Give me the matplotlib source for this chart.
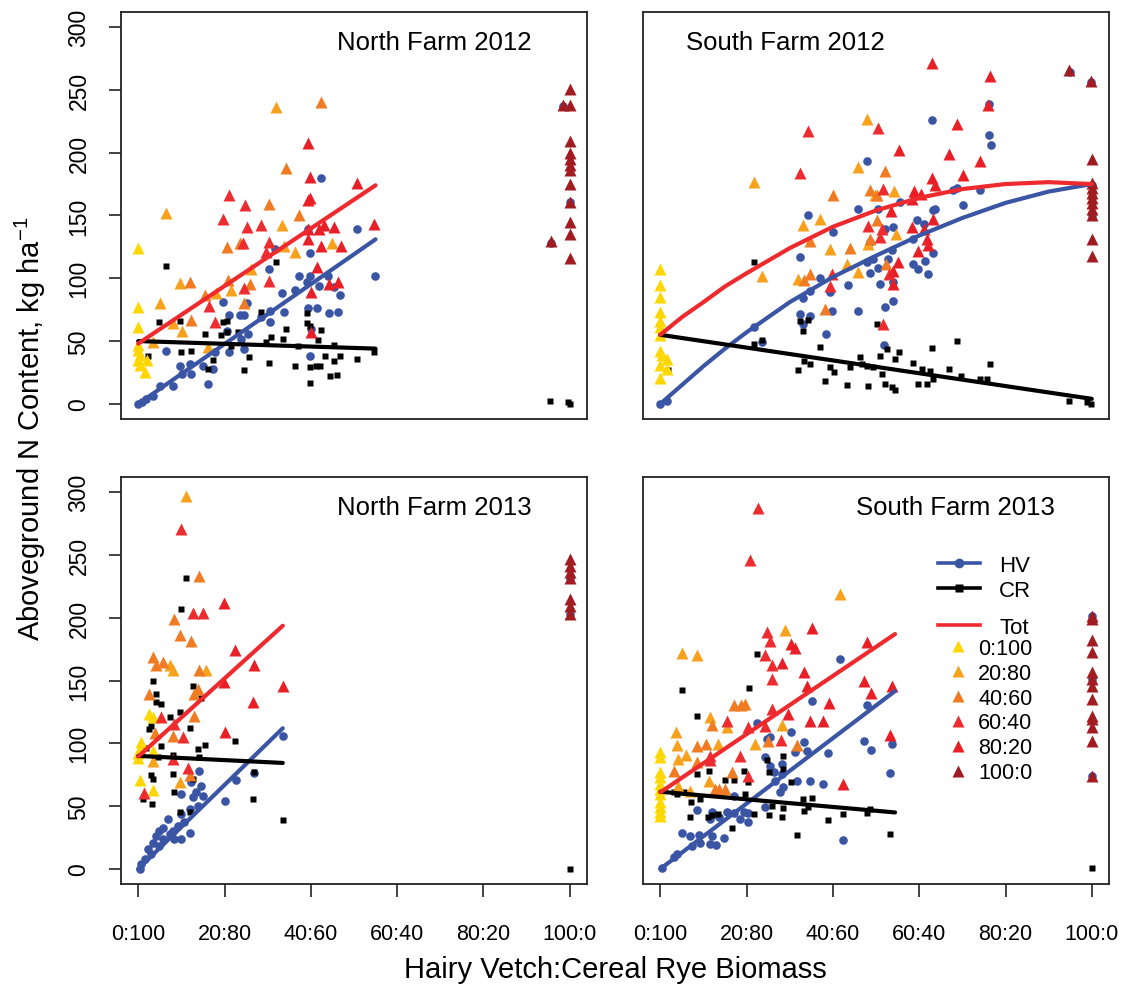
import matplotlib.pyplot as plt
from matplotlib.lines import Line2D

plt.rcParams['font.family'] = ['Liberation Sans', 'DejaVu Sans']
plt.rcParams['mathtext.fontset'] = 'custom'
plt.rcParams['mathtext.rm'] = 'Liberation Sans'
plt.rcParams['mathtext.it'] = 'Liberation Sans:italic'

## axis categories (HV:CR seeding ratios)
ratio_ticks = [0, 20, 40, 60, 80, 100]
ratio_labels = ['0:100', '20:80', '40:60', '60:40', '80:20', '100:0']
y_ticks = [0, 50, 100, 150, 200, 250, 300]
trt_names = ['0:100', '20:80', '40:60', '60:40', '80:20', '100:0']
trt_colors = ['#FFD700', '#F8A11C', '#F07B22', '#EC2C2E', '#E91F27', '#A11C21']
hv_color = '#3B55A5'
tot_color = '#EE2A2E'

## ---------------- North Farm 2012 ----------------
nf12_hv = [(42.4, 180), (50.8, 139), (54.9, 102), (39.3, 139), (39.8, 120), (30.4, 107),
           (31.6, 123.5), (37.2, 102), (39.8, 102), (39, 97), (42, 94), (43.9, 102),
           (45.4, 93), (46.8, 87), (33.3, 88), (36.4, 91), (19.6, 81), (25.2, 80.5),
           (21, 71), (23.5, 71), (24.6, 71), (28.5, 69), (30.6, 74), (30.6, 65),
           (33.9, 73), (39.3, 76), (41.4, 76), (44.3, 72), (46.2, 73), (40, 60),
           (20.6, 58), (25.4, 56), (23.8, 52), (24.6, 44), (21, 41), (17.7, 41),
           (6.5, 42.5), (39.8, 38), (9.7, 30.5), (11.9, 32), (15, 30.5), (17.3, 28),
           (10.2, 24), (12.3, 24), (8, 14.6), (5.1, 14), (16.1, 16), (3.4, 6.6),
           (1.9, 4), (0, 0), (0.8, 1.3), (95.6, 128), (98.4, 237), (100, 161)]
nf12_cr = [(6.5, 110), (31.9, 113), (28.5, 73), (4.9, 65), (9.7, 65.6), (19.6, 65),
           (20.6, 66), (39, 72), (39, 64), (39.9, 62), (42.4, 59), (15.4, 56),
           (19.2, 54.5), (20.6, 57), (23.1, 57), (34.3, 60), (30.8, 53), (33.5, 52),
           (41.6, 51), (29.6, 49), (45.4, 47), (9.9, 41), (12.3, 42.5), (17.3, 35),
           (25.6, 37), (30.4, 32.7), (36.4, 30), (39.9, 29), (41.2, 30.5), (42.2, 30.5),
           (43.4, 38.5), (46.8, 38), (45.3, 34.5), (50.8, 36), (54.7, 41), (16.1, 28),
           (24.6, 27), (44.4, 22.6), (46, 23), (39.8, 17), (2.2, 38.5), (21.5, 46),
           (37, 46), (95.4, 2), (99.5, 1.5), (100, 0)]
nf12_tot = {
    '0:100': [(0, 124), (0, 77), (0, 61), (0, 47), (0, 43), (0.5, 39), (0, 35),
              (0.5, 31), (1.5, 25), (2, 35)],
    '20:80': [(31.9, 236), (6.5, 152), (33.3, 142), (33.8, 126), (36.4, 121), (45, 128),
              (26.2, 107), (9.6, 96), (21.5, 91), (18.1, 88), (5, 80), (8, 64),
              (10.2, 58), (16.1, 45), (3.4, 49)],
    '40:60': [(42.4, 240), (34.3, 188), (30.4, 159), (37.2, 150), (20.6, 125),
              (23.5, 128), (20.8, 99), (11.9, 97), (25.8, 95.6), (15.4, 87),
              (24.6, 80), (12.3, 67)],
    '60:40': [(21, 166), (24.8, 158.5), (19.6, 147), (25.2, 141), (28.5, 142),
              (24.2, 128), (29.6, 121), (30.4, 129), (30.4, 98), (24.6, 92),
              (16.5, 78), (17.7, 65)],
    '80:20': [(39.3, 208), (39.8, 181), (50.8, 176), (39.7, 164), (39.3, 162),
              (39.3, 139.5), (42, 139.5), (43.1, 142), (45.4, 141), (54.7, 143.5),
              (39.3, 131.5), (42.4, 126), (47, 126), (41.4, 109), (44.1, 95.6),
              (46.2, 97), (40, 89), (40, 57)],
    '100:0': [(100, 251), (98.4, 238), (100, 238), (100, 209), (100, 200), (100, 195),
              (100, 190), (100, 186), (100, 175), (100, 161), (100, 145), (100, 135),
              (100, 116), (95.6, 130)],
}
nf12_fit_x = [0, 55]
nf12_fit_hv = [0, 131]
nf12_fit_cr = [50, 44]
nf12_fit_tot = [48, 174]

## ---------------- South Farm 2012 ----------------
sf12_hv = [(48, 193), (34.3, 150), (45.9, 155), (50.5, 155), (32.4, 117), (40, 137),
           (34.7, 90), (33, 84), (37, 100), (39.4, 89), (43.6, 95), (47.8, 113),
           (48.5, 104), (50.5, 108), (50.9, 95.6), (52.7, 115.5), (32.4, 71.7),
           (34.7, 70), (33, 63.7), (39.7, 74), (45.9, 73.8), (38.5, 55.8), (21.8, 61),
           (23.5, 49), (52, 77), (51.9, 46.5), (0, 0), (1.5, 2.7),
           (62.9, 226), (76.2, 214), (76.6, 206), (76.2, 239), (95, 264), (67.9, 170),
           (68.8, 172), (74, 170), (63.7, 155), (63.3, 154), (70.2, 158), (55.6, 161),
           (59.4, 146), (61, 143), (54, 141), (52.1, 139), (58.6, 131), (63.3, 120),
           (61.3, 113.5), (62, 103), (58.6, 111), (59.8, 107), (53.6, 122.5), (54, 97),
           (54, 82), (49.3, 115.5), (48.6, 129),
           (99.9, 256), (100, 174), (100, 165), (100, 150)]
sf12_cr = [(21.8, 113), (23.5, 50.5), (21.8, 48), (32.4, 65.6), (34.3, 66.4), (33, 58),
           (36.9, 45), (33.2, 34.5), (34.7, 32), (32, 27), (39.4, 29), (40.2, 25),
           (38.2, 18.6), (43.2, 15), (48.2, 14.6), (44, 29), (46.3, 37), (46.7, 32),
           (47.8, 30.5), (49.4, 29), (50.9, 38.5), (51.3, 24), (52, 16), (52.5, 44),
           (50.3, 63.7), (1.9, 26.6),
           (68.7, 49.7), (62.9, 44.4), (55.4, 41.7), (54.4, 35.9), (58.6, 32.7),
           (60.6, 28), (62.5, 25.8), (63.3, 20), (67, 28), (69.8, 22), (74, 20),
           (75.6, 20), (76.4, 32), (59.8, 16), (61.7, 16), (53.8, 13.3), (54.4, 11.4),
           (94.7, 2.7), (99, 1.3), (99.7, 0)]
sf12_tot = {
    '0:100': [(0, 107), (0, 95), (0, 85), (0, 73), (0, 66), (0, 61), (0, 55), (0, 42),
              (0.5, 39), (1.5, 36), (0, 31), (1.5, 28), (0, 21)],
    '20:80': [(21.8, 177), (23.5, 102), (47.8, 227), (45.9, 188.6), (33, 142),
              (36.9, 147), (39.4, 123.5), (48.2, 127), (43.2, 111.5), (45.9, 105),
              (32, 99.6), (54.2, 169.7), (54.6, 135.5), (49.8, 166)],
    '40:60': [(52, 185), (40, 166), (48.5, 170), (50.2, 166), (34.7, 130), (44, 124),
              (50.2, 146), (48.6, 131), (33.2, 98.8), (34.7, 103.6), (38.2, 75.7),
              (52.3, 111.5)],
    '60:40': [(34.3, 217), (32.4, 184), (50.5, 220), (51.7, 171), (48.2, 141.6),
              (51.3, 139), (39.7, 103), (39.4, 94), (51.7, 63.7), (52.9, 103),
              (51, 132.8)],
    '80:20': [(62.9, 271), (76.4, 261), (76, 238), (68.8, 223), (55.4, 202), (67, 199),
              (74, 193), (62.9, 180), (63.7, 174), (70.1, 182.5), (58.9, 169.7),
              (60.5, 167), (58.4, 163), (53.4, 153.6), (63.1, 147.4), (58.4, 140.8),
              (61, 139.4), (61.7, 131.5), (62, 126.7), (59.8, 122), (55, 113),
              (54, 106), (54, 95.6)],
    '100:0': [(94.8, 266), (99.9, 257), (100, 195), (100, 176), (100, 172), (100, 168),
              (100, 164), (100, 160), (100, 155), (100, 150), (100, 131), (100, 118)],
}
sf12_fit_x = [0, 5, 10, 15, 20, 30, 40, 50, 60, 70, 80, 90, 100]
sf12_fit_hv = [0, 15, 30, 44, 57, 81, 101, 118, 134, 148, 160, 169, 175]
sf12_fit_tot = [55, 69, 81, 93.5, 104, 124, 141, 154, 164, 171, 175, 176.5, 175]
sf12_cr_fit_x = [0, 100]
sf12_fit_cr = [55, 4]

## ---------------- North Farm 2013 ----------------
nf13_hv = [(33.5, 105.6), (26.9, 76), (22.7, 71), (20, 54), (14.2, 78), (12.3, 69),
           (14.6, 66), (10, 60), (12.7, 57), (15, 58), (13.8, 50), (11.9, 48), (10, 44),
           (6.9, 40), (5.7, 33), (8, 30.5), (11.9, 29), (10, 24), (5.7, 24), (4.2, 26.5),
           (3.4, 21), (2.2, 16), (3, 12), (1.5, 8), (0.7, 4), (0.3, 0), (7.3, 28),
           (8.4, 24), (9.2, 34.5), (4.9, 30.5), (10.7, 37), (13.4, 61), (4.9, 18.6),
           (100, 232), (100, 203)]
nf13_cr = [(11.1, 231.6), (10, 207), (3.5, 150), (4.2, 139), (4.2, 132.6), (5.3, 131.3),
           (12.7, 146), (14.6, 136), (7.3, 120.7), (9.6, 125), (2.6, 111.4), (3, 114),
           (12.1, 112), (1.9, 96), (5.3, 98), (4.6, 89), (8, 90.7), (13.8, 95.5),
           (15.4, 98.7), (22.5, 102), (14, 89.4), (3, 74.8), (3.4, 71.6), (8, 75.6),
           (12.7, 72), (26.9, 77), (8.3, 61.5), (1.2, 56), (3.2, 51.7), (26.5, 56),
           (9.7, 45), (11.9, 45.6), (33.5, 39), (100, 0)]
nf13_tot = {
    '0:100': [(2.6, 123), (3.4, 120.7), (0.7, 101), (0.3, 95.5), (3.4, 94), (0.3, 71),
              (3.4, 63), (0, 92), (0, 88)],
    '20:80': [(11.1, 297), (7.3, 162), (8, 158), (15.7, 158), (3.4, 86), (9.7, 69)],
    '40:60': [(14.2, 233), (8.4, 199), (9.6, 186.5), (12.3, 181.7), (3.4, 169),
              (5.7, 165), (4.2, 162), (14.2, 158.4), (2.6, 139), (13.8, 143), (13, 139),
              (13, 122), (4, 108), (8, 106), (11.9, 75)],
    '60:40': [(10, 271), (12.7, 204), (15, 203.5), (5.3, 120.7), (8.4, 115), (10.3, 105),
              (8, 87.5), (11.5, 80), (1.3, 60.5)],
    '80:20': [(19.8, 212), (22.5, 174.5), (26.9, 162), (33.5, 146), (26.5, 133),
              (19.8, 149), (20, 109)],
    '100:0': [(100, 246.6), (100, 241), (100, 236), (100, 232), (100, 215), (100, 209),
              (100, 203)],
}
nf13_fit_x = [0, 33.5]
nf13_fit_hv = [0, 112]
nf13_fit_cr = [90, 84.4]
nf13_fit_tot = [89.4, 193.6]

## ---------------- South Farm 2013 ----------------
sf13_hv = [(41.7, 167), (35.1, 134), (47.8, 130.5), (30.3, 108.8), (22.4, 116),
           (25.5, 105), (24.7, 103.4), (33.2, 101.3), (31.3, 92.8), (33.9, 94),
           (38.8, 92.3), (47.1, 101.6), (48.8, 95), (24.3, 88.9), (28.2, 83.5), (25.5, 82),
           (26.4, 77), (28.2, 75.6), (26.6, 70.3), (28.5, 65), (31.6, 70.3), (34.7, 70.3),
           (37.6, 67.6), (27.8, 61), (24.3, 49), (20.4, 44.3), (20.4, 37), (18.5, 40),
           (17, 58), (8.5, 47.2), (11.9, 45), (15.4, 45), (13.5, 41.6), (11.6, 39.8),
           (17, 44.3), (19.3, 45), (5, 28.6), (6.9, 26.5), (8.9, 27), (11.9, 26.5),
           (14.7, 25), (9.3, 21), (11.6, 20), (13, 19.4), (7.3, 18.6), (3.9, 12),
           (3.1, 9.3), (0.4, 0.5), (42.4, 23.3), (53.6, 99.4), (53.2, 76.4),
           (100, 201), (100, 151), (100, 74)]
sf13_cr = [(22.4, 171), (5, 142.4), (20.6, 143.8), (8.5, 122), (24.7, 86.7), (25.3, 77.5),
           (28.5, 90), (28.4, 79.6), (30.3, 69), (8.5, 75.6), (11.3, 78), (14.9, 70.8),
           (17, 71), (19.3, 77.7), (20.4, 69.5), (5.6, 61), (9.1, 55.7), (7.2, 53.6),
           (19.7, 59.7), (3.9, 59.7), (12, 43), (13.3, 43.8), (11, 41), (6.9, 41),
           (16.6, 33), (21.8, 43.8), (25.1, 43), (28.2, 41), (25.9, 50.4), (28.4, 48.3),
           (33, 56), (35.1, 56.5), (33.4, 46.4), (34.3, 49), (31.6, 27), (38.8, 39.3),
           (42.4, 43.8), (47.8, 44.6), (48.5, 47.7), (53.2, 28), (3.1, 61), (100, 0.4)]
sf13_tot = {
    '0:100': [(0, 93), (0, 89), (0, 77), (0, 73), (0, 67.6), (0, 63.7), (0, 59.7),
              (0, 53), (0, 49), (0, 45), (0, 42.4)],
    '20:80': [(41.7, 219), (28.8, 190), (5, 172), (8.5, 170), (11.6, 120.7),
              (15.4, 112.7), (28.2, 114.9), (3.6, 108.8), (3.9, 99), (13.3, 99.5),
              (22, 99.5), (4.2, 87.5), (6, 90.7), (11.4, 70), (6.9, 62), (4.2, 66)],
    '40:60': [(17, 130.5), (18.8, 130.5), (19.7, 131), (11.9, 114.6), (8.5, 97.6),
              (10.6, 99.5), (25, 102), (31.6, 99), (3.1, 78), (8.5, 85), (16.6, 77.5),
              (12.7, 63.7), (13.5, 63.7), (15, 63.7)],
    '60:40': [(22.6, 287), (20.7, 246), (24.7, 189), (25.5, 181.7), (24.2, 170),
              (25.8, 162), (25.8, 151), (26, 127), (15.4, 118), (20.4, 112.7), (24.3, 114),
              (28, 102.6), (11.6, 90), (11.6, 86.7), (18.5, 90), (20.4, 74)],
    '80:20': [(35.1, 191.5), (30.3, 179), (31.3, 176), (47.8, 181), (28.3, 163.7),
              (33.2, 156.5), (33.9, 146), (47.1, 150), (48.8, 140), (29.7, 123), (39, 132),
              (34.7, 118), (37.6, 118), (42.4, 67.6), (53.6, 145.8), (53.2, 106.6)],
    '100:0': [(100, 201.5), (100, 199), (100, 181.9), (100, 172.6), (100, 156.7),
              (100, 151.4), (100, 146), (100, 135.5), (100, 122), (100, 119.4),
              (100, 112.8), (100, 102.2), (100, 74.3)],
}
sf13_fit_x = [0, 54.4]
sf13_fit_hv = [0, 141.6]
sf13_fit_cr = [61.5, 45]
sf13_fit_tot = [61, 187]


def draw_panel(ax, hv, cr, tot, hv_line, cr_line, tot_line, title, title_x,
               show_x=False, show_y=False):
    ## points: HV circles, CR squares, then total-N triangles
    x, y = zip(*hv)
    ax.plot(x, y, ls='none', marker='o', ms=6.2, color=hv_color, mec='none')
    x, y = zip(*cr)
    ax.plot(x, y, ls='none', marker='s', ms=3.9, color='black', mec='none')
    for name, c in zip(trt_names, trt_colors):
        if name in tot and tot[name]:
            x, y = zip(*tot[name])
            ax.plot(x, y, ls='none', marker='^', ms=8.8, color=c, mec='none')

    ## fitted lines
    ax.plot(hv_line[0], hv_line[1], color=hv_color, lw=3, solid_capstyle='round',
            solid_joinstyle='round')
    ax.plot(cr_line[0], cr_line[1], color='black', lw=3, solid_capstyle='round')
    ax.plot(tot_line[0], tot_line[1], color=tot_color, lw=3, solid_capstyle='round',
            solid_joinstyle='round')

    ax.set_xlim(-4, 104)
    ax.set_ylim(-12, 312)
    ax.set_xticks(ratio_ticks)
    ax.set_yticks(y_ticks)
    ax.tick_params(direction='out', length=9, width=1.2, color='#222222')
    ax.tick_params(axis='x', labelsize=15.5, pad=19, bottom=show_x, labelbottom=show_x)
    ax.tick_params(axis='y', labelsize=16.5, pad=13, left=show_y, labelleft=show_y)
    if show_x:
        ax.set_xticklabels(ratio_labels)
    if show_y:
        for lab in ax.get_yticklabels():
            lab.set_rotation(90)
            lab.set_va('center')
    for s in ax.spines.values():
        s.set_linewidth(1.3)
        s.set_color('#222222')
    ax.text(title_x, 0.926, title, transform=ax.transAxes, ha='center', va='center',
            fontsize=18.5)


fig = plt.figure(figsize=(11.23, 9.87), dpi=100)
ax_tl = fig.add_axes([0.1077, 0.5745, 0.4150, 0.4124])
ax_tr = fig.add_axes([0.5726, 0.5745, 0.4150, 0.4124])
ax_bl = fig.add_axes([0.1077, 0.1033, 0.4150, 0.4124])
ax_br = fig.add_axes([0.5726, 0.1033, 0.4150, 0.4124])

draw_panel(ax_tl, nf12_hv, nf12_cr, nf12_tot,
           (nf12_fit_x, nf12_fit_hv), (nf12_fit_x, nf12_fit_cr), (nf12_fit_x, nf12_fit_tot),
           'North Farm 2012', 0.672, show_y=True)
draw_panel(ax_tr, sf12_hv, sf12_cr, sf12_tot,
           (sf12_fit_x, sf12_fit_hv), (sf12_cr_fit_x, sf12_fit_cr), (sf12_fit_x, sf12_fit_tot),
           'South Farm 2012', 0.305)
draw_panel(ax_bl, nf13_hv, nf13_cr, nf13_tot,
           (nf13_fit_x, nf13_fit_hv), (nf13_fit_x, nf13_fit_cr), (nf13_fit_x, nf13_fit_tot),
           'North Farm 2013', 0.672, show_x=True, show_y=True)
draw_panel(ax_br, sf13_hv, sf13_cr, sf13_tot,
           (sf13_fit_x, sf13_fit_hv), (sf13_fit_x, sf13_fit_cr), (sf13_fit_x, sf13_fit_tot),
           'South Farm 2013', 0.67, show_x=True)

## legend in the South Farm 2013 panel (three stacked legends as in the original)
h_hv = Line2D([], [], color=hv_color, lw=2.6, marker='o', ms=7, mec='none')
h_cr = Line2D([], [], color='black', lw=2.6, marker='s', ms=6, mec='none')
h_tot = Line2D([], [], color=tot_color, lw=2.6)
h_trt = [Line2D([], [], ls='none', marker='^', ms=9, color=c, mec='none') for c in trt_colors]

leg_kw = dict(loc='upper left', frameon=False, borderpad=0, borderaxespad=0)
leg1 = ax_br.legend([h_hv, h_cr], ['HV', 'CR'], bbox_to_anchor=(0.633, 0.8096),
                    fontsize=16, labelspacing=0.18, handlelength=1.9, handletextpad=0.85,
                    **leg_kw)
ax_br.add_artist(leg1)
leg2 = ax_br.legend([h_tot], ['Tot'], bbox_to_anchor=(0.633, 0.657),
                    fontsize=16, labelspacing=0.2, handlelength=1.9, handletextpad=0.85,
                    **leg_kw)
ax_br.add_artist(leg2)
ax_br.legend(h_trt, trt_names, bbox_to_anchor=(0.652, 0.605),
             fontsize=15.5, labelspacing=0.18, handlelength=1.0, handletextpad=0.45,
             **leg_kw)

fig.text(0.027, 0.566, 'Aboveground N Content, kg ha$^{-1}$', rotation=90,
         ha='center', va='center', fontsize=21)
fig.text(0.5476, 0.017, 'Hairy Vetch:Cereal Rye Biomass', ha='center', va='center',
         fontsize=21)

fig.savefig('out.png', dpi=100)
